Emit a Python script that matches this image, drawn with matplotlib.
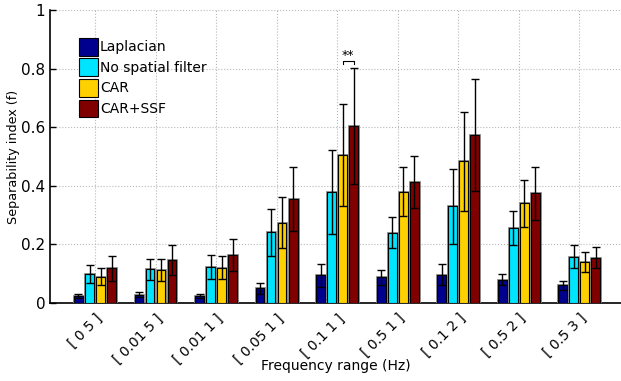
import numpy as np
import matplotlib.pyplot as plt

labels = ["[ 0 5 ]", "[ 0.01 5 ]", "[ 0.01 1 ]", "[ 0.05 1 ]", "[ 0.1 1 ]",
          "[ 0.5 1 ]", "[ 0.1 2 ]", "[ 0.5 2 ]", "[ 0.5 3 ]"]
series = ["Laplacian", "No spatial filter", "CAR", "CAR+SSF"]

laplacian = [0.024, 0.028, 0.024, 0.050, 0.094, 0.088, 0.097, 0.080, 0.060]
laplacian_err = [0.007, 0.009, 0.007, 0.018, 0.039, 0.025, 0.036, 0.018, 0.016]
no_filter = [0.098, 0.115, 0.124, 0.241, 0.378, 0.240, 0.330, 0.256, 0.158]
no_filter_err = [0.030, 0.035, 0.041, 0.080, 0.143, 0.052, 0.127, 0.059, 0.040]
car = [0.090, 0.113, 0.120, 0.274, 0.506, 0.380, 0.483, 0.340, 0.140]
car_err = [0.030, 0.037, 0.039, 0.087, 0.174, 0.083, 0.170, 0.080, 0.034]
car_ssf = [0.118, 0.147, 0.163, 0.354, 0.604, 0.412, 0.574, 0.374, 0.155]
car_ssf_err = [0.042, 0.051, 0.054, 0.110, 0.197, 0.088, 0.191, 0.091, 0.037]

colors = ["#00008F", "#00E5FF", "#FFD000", "#800000"]

fig = plt.figure(figsize=(6.21, 3.81), dpi=100)
ax = fig.add_axes([0.0805, 0.2047, 0.9195, 0.7693])

x = np.arange(1, len(labels) + 1)
step = 0.182
width = 0.145
data = [laplacian, no_filter, car, car_ssf]
errs = [laplacian_err, no_filter_err, car_err, car_ssf_err]
for i in range(4):
    pos = x + (i - 1.5) * step
    # faint grey halo behind each bar, as in the original
    ax.bar(pos, data[i], width, color="none", edgecolor="#888888",
           linewidth=2.0, zorder=2.9)
    ax.bar(pos, data[i], width, color=colors[i], edgecolor="black",
           linewidth=0.8, label=series[i], zorder=3)
    ax.errorbar(pos, data[i], yerr=errs[i], fmt="none", ecolor="black",
                elinewidth=1.0, capsize=3, capthick=1.0, zorder=4)

# significance bracket between CAR and CAR+SSF in [0.1 1]
x1 = 5 + 0.5 * step
x2 = 5 + 1.5 * step
ax.plot([x1, x1, x2, x2], [0.816, 0.824, 0.824, 0.816], color="black", lw=0.8, zorder=5)
ax.text((x1 + x2) / 2, 0.822, "**", ha="center", va="bottom", fontsize=9)

ax.set_xlim(0.256, 9.69)
ax.set_ylim(0, 1)
ax.set_xticks(x)
ax.set_xticklabels(labels, rotation=45, ha="right", rotation_mode="anchor", fontsize=10)
ax.set_yticks([0, 0.2, 0.4, 0.6, 0.8, 1])
ax.set_yticklabels(["0", "0.2", "0.4", "0.6", "0.8", "1"], fontsize=11)
ax.tick_params(direction="in", length=4, width=1)
ax.tick_params(axis="x", length=0, pad=6)
ax.grid(True, linestyle=":", color="#b8b8b8", linewidth=0.8, zorder=0)
ax.spines["top"].set_visible(False)
ax.spines["right"].set_visible(False)
ax.spines["left"].set_linewidth(1.2)
ax.spines["bottom"].set_linewidth(1.2)

ax.set_xlabel("Frequency range (Hz)", fontsize=10)
ax.xaxis.set_label_coords(0.5, -0.19)
ax.set_ylabel("Separability index (f)", fontsize=9.2)
ax.yaxis.set_label_coords(-0.053, 0.5)

ax.legend(loc="upper left", bbox_to_anchor=(0.05, 0.905), frameon=False, fontsize=10,
          handlelength=1.4, handleheight=1.6, handletextpad=0.15, labelspacing=0.2,
          borderpad=0, borderaxespad=0)

fig.savefig("out.png", dpi=100)
